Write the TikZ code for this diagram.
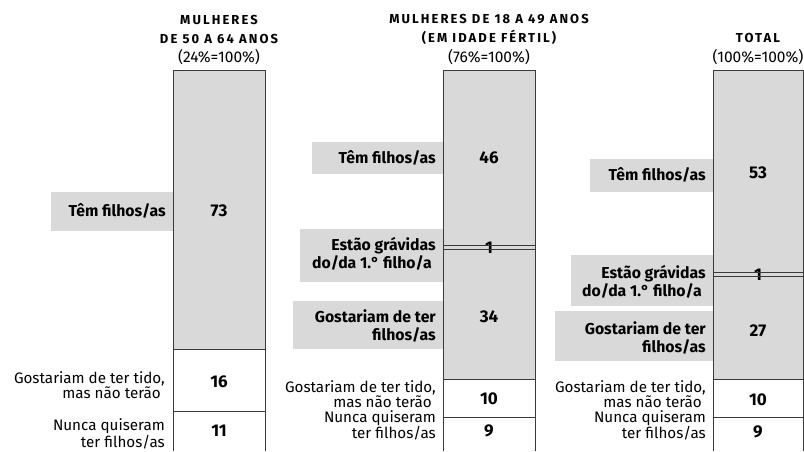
\documentclass[tikz,border=0pt]{standalone}
\usepackage{fontspec}
\setmainfont{Fira Sans}
\newfontfamily\headfont[LetterSpace=16]{Fira Sans}
\definecolor{barfill}{HTML}{D9D9D9}
\definecolor{edgecol}{HTML}{3A3A3A}
\begin{document}
\begin{tikzpicture}[x=1pt,y=-1pt,
  segline/.style={draw=edgecol, line width=1pt},
  numtxt/.style={font=\fontsize{17}{19}\selectfont\bfseries, inner sep=0},
  plaintxt/.style={font=\fontsize{15.2}{14.8}\selectfont, align=right, anchor=east, inner sep=0},
  boldtxt/.style={font=\fontsize{15.8}{18}\selectfont\bfseries, align=right, anchor=east, inner sep=0},
  headtxt/.style={font=\headfont\fontsize{13}{19}\selectfont\bfseries, align=center, inner sep=0},
  pcttxt/.style={font=\fontsize{15.5}{17}\selectfont, inner sep=0}]
\useasboundingbox (0,0) rectangle (804,451);

% ---- label boxes
\fill[barfill] (51,192) rectangle (173,231);
\fill[barfill] (312,142) rectangle (443,174);
\fill[barfill] (300,229) rectangle (443,282);
\fill[barfill] (293,301) rectangle (443,349);
\fill[barfill] (590,159) rectangle (713,192);
\fill[barfill] (571,255) rectangle (713,306);
\fill[barfill] (555,311) rectangle (713,361);

% ---- bar 1
\fill[barfill] (173,70) rectangle (265,349);
\draw[segline] (173,451) -- (173,70) -- (265,70) -- (265,451);
\draw[segline] (173,349) -- (265,349);
\draw[segline] (173,411) -- (265,411);

% ---- bar 2
\fill[barfill] (443,70) rectangle (535,379);
\draw[segline] (443,451) -- (443,70) -- (535,70) -- (535,451);
\draw[segline] (443,379) -- (535,379);
\draw[segline] (443,417) -- (535,417);

% ---- bar 3
\fill[barfill] (713,70) rectangle (803,379);
\draw[segline] (713,451) -- (713,70) -- (803,70) -- (803,451);
\draw[segline] (713,379) -- (803,379);
\draw[segline] (713,417) -- (803,417);

% ---- numbers
\node[numtxt] (n73) at (219,211) {73};
\node[numtxt] (n16) at (219,382) {16};
\node[numtxt] (n11) at (219,431) {11};
\node[numtxt] (n46) at (489,158) {46};
\node[numtxt] (n1a) at (489,248) {1};
\node[numtxt] (n34) at (489,317) {34};
\node[numtxt] (n10a) at (489,399) {10};
\node[numtxt] (n9a) at (489,431) {9};
\node[numtxt] (n53) at (758,173) {53};
\node[numtxt] (n1b) at (758,275) {1};
\node[numtxt] (n27) at (758,331) {27};
\node[numtxt] (n10b) at (758,400) {10};
\node[numtxt] (n9b) at (758,432) {9};

% double lines for the 1% segments
\draw[segline] (443,245) -- (535,245);
\draw[segline] (443,249) -- (535,249);
\draw[segline] (713,272) -- (803,272);
\draw[segline] (713,276) -- (803,276);

% ---- bold labels
\node[boldtxt] (l1) at (166,211) {Têm filhos/as};
\node[boldtxt] (l2) at (436,158) {Têm filhos/as};
\node[boldtxt] (l3) at (436,254) {Estão grávidas\\do/da 1.° filho/a\hspace*{4pt}};
\node[boldtxt] (l4) at (436,326) {Gostariam de ter\\filhos/as};
\node[boldtxt] (l5) at (706,175) {Têm filhos/as};
\node[boldtxt] (l6) at (706,282) {Estão grávidas\\do/da 1.° filho/a\hspace*{4pt}};
\node[boldtxt] (l7) at (706,338) {Gostariam de ter\\filhos/as};

% ---- plain labels
\node[plaintxt] (p1) at (165,385.5) {Gostariam de ter tido,\\mas não terão\hspace*{4pt}};
\node[plaintxt] (p2) at (165,434) {Nunca quiseram\\ter filhos/as};
\node[plaintxt] (p3) at (436,394) {Gostariam de ter tido,\\mas não terão\hspace*{4pt}};
\node[plaintxt] (p4) at (436,425.5) {Nunca quiseram\\ter filhos/as};
\node[plaintxt] (p5) at (706,394) {Gostariam de ter tido,\\mas não terão\hspace*{4pt}};
\node[plaintxt] (p6) at (706,425.5) {Nunca quiseram\\ter filhos/as};

% ---- headings
\node[headtxt] (h1) at (219,29.5) {MULHERES\\DE 50 A 64 ANOS};
\node[pcttxt] (c1) at (219,57) {(24\%=100\%)};
\node[headtxt] (h2) at (489,29.5) {MULHERES DE 18 A 49 ANOS\\(EM IDADE FÉRTIL)};
\node[pcttxt] (c2) at (489,57) {(76\%=100\%)};
\node[headtxt] (h3) at (758,38) {TOTAL};
\node[pcttxt] (c3) at (758,57) {(100\%=100\%)};
\end{tikzpicture}
\end{document}
